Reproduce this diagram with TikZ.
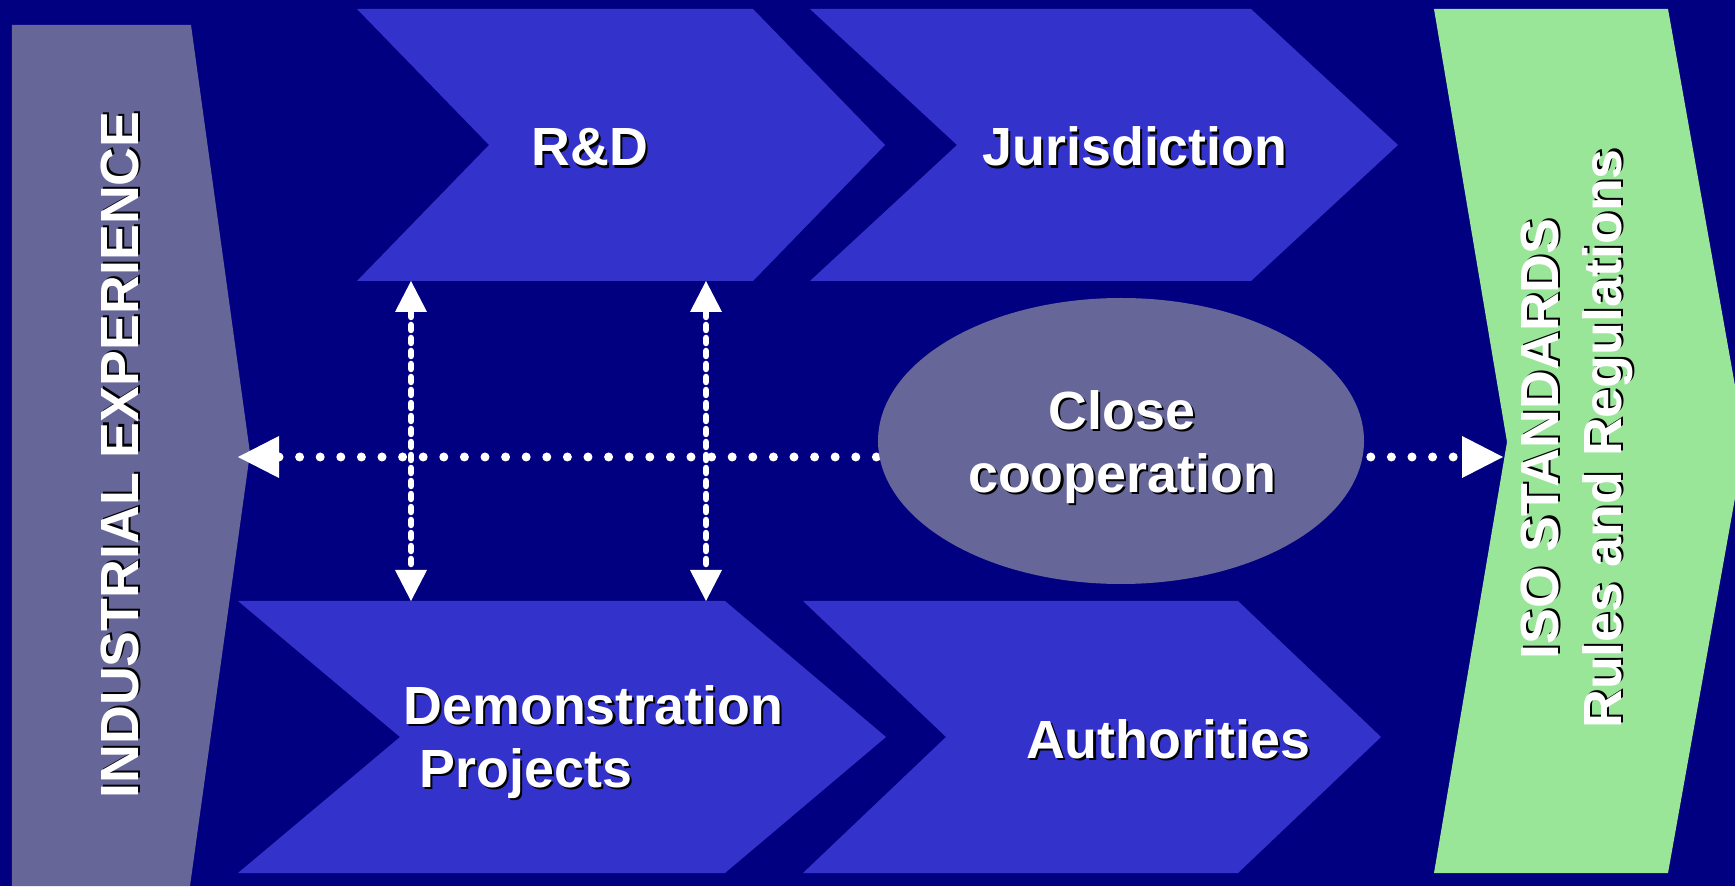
\documentclass[tikz,border=0pt]{standalone}
\usepackage{fontspec}
\setmainfont{Liberation Sans}
\usepackage{xcolor}
\usetikzlibrary{arrows.meta}

\definecolor{navy}{RGB}{0,0,128}
\definecolor{chevblue}{RGB}{51,51,204}
\definecolor{slate}{RGB}{102,102,153}
\definecolor{mint}{RGB}{153,230,153}
\newcommand{\shd}[1]{\leavevmode\rlap{\kern0.6pt\raisebox{-0.6pt}{\color{black}#1}}#1}

\begin{document}
\begin{tikzpicture}[every node/.style={text=white, inner sep=0pt, font=\bfseries\fontsize{15.3}{18}\selectfont},
  chev/.style={fill=chevblue},
  dots/.style={white, line width=0.09cm, line cap=round, dash pattern=on 0pt off 0.206cm,
    {Triangle[length=4.1mm,width=4.2mm,line width=0pt]}-{Triangle[length=4.1mm,width=4.2mm,line width=0pt]}},
  dashv/.style={white, line width=0.065cm, line cap=round, dash pattern=on 0.05cm off 0.08cm,
    {Triangle[length=3.1mm,width=3.2mm,line width=0pt]}-{Triangle[length=3.1mm,width=3.2mm,line width=0pt]}}]
\useasboundingbox (0,0) rectangle (17.35,8.86);
\clip (0,0) rectangle (17.35,8.86);
\fill[navy] (0,0) rectangle (17.35,8.86);
% side bands
\fill[slate] (0.12,8.61) -- (1.91,8.61) -- (2.50,4.33) -- (1.90,0) -- (0.12,0) -- cycle;
\fill[mint] (14.34,8.77) -- (16.68,8.77) -- (17.45,4.44) -- (16.68,0.13) -- (14.34,0.13) -- (15.07,4.44) -- cycle;
% chevrons
\fill[chev] (3.57,8.77) -- (7.53,8.77) -- (8.85,7.41) -- (7.53,6.05) -- (3.57,6.05) -- (4.89,7.41) -- cycle;
\fill[chev] (8.10,8.77) -- (12.51,8.77) -- (13.98,7.41) -- (12.51,6.05) -- (8.10,6.05) -- (9.57,7.41) -- cycle;
\fill[chev] (2.38,2.85) -- (7.25,2.85) -- (8.86,1.49) -- (7.25,0.13) -- (2.38,0.13) -- (4.00,1.49) -- cycle;
\fill[chev] (8.03,2.85) -- (12.38,2.85) -- (13.81,1.49) -- (12.38,0.13) -- (8.03,0.13) -- (9.46,1.49) -- cycle;
\coordinate (IE) at (2.38,4.29);
\coordinate (ISO) at (15.03,4.29);
\coordinate (RD1) at (4.11,6.05);
\coordinate (DP1) at (4.11,2.85);
\coordinate (RD2) at (7.06,6.05);
\coordinate (DP2) at (7.06,2.85);
\draw[dots] (IE) -- (ISO);
\fill[slate] (11.21,4.45) ellipse [x radius=2.43, y radius=1.43];
\draw[dashv] (RD1) -- (DP1);
\draw[dashv] (RD2) -- (DP2);
% labels
\node[anchor=base] (RD) at (5.90,7.20) {\shd{R\&D}};
\node[anchor=base] (JU) at (11.35,7.20) {\shd{Jurisdiction}};
\node[anchor=west, align=left] (DP) at (4.03,1.43) {\shd{Demonstration}\\\hspace*{0.3em}\shd{Projects}};
\node[anchor=base] (AU) at (11.68,1.28) {\shd{Authorities}};
\node[align=center] (CC) at (11.22,4.38) {\shd{Close}\\\shd{cooperation}};
\node[anchor=base, rotate=90] (IND) at (1.38,4.31) {\shd{INDUSTRIAL EXPERIENCE}};
\node[align=center, rotate=90] (STD) at (15.78,4.47) {\shd{ISO STANDARDS}\\\shd{Rules and Regulations}};
\end{tikzpicture}
\end{document}
